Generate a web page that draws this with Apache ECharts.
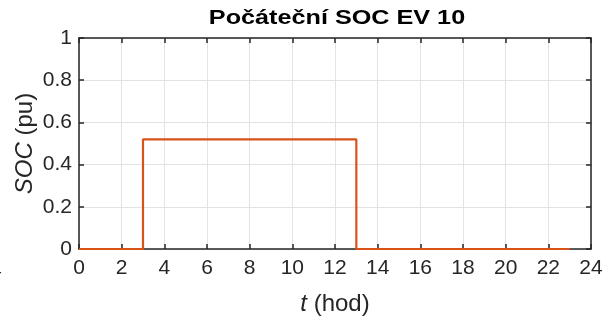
<!DOCTYPE html>
<html>
<head>
<meta charset="utf-8">
<script src="https://cdn.jsdelivr.net/npm/echarts@6/dist/echarts.min.js"></script>
<style>
html,body{margin:0;padding:0;background:#fff;}
#c{width:614px;height:325px;}
</style>
</head>
<body>
<div id="c"></div>
<script>
// Data
var times = [0, 3, 13, 23];          // hours where SOC value changes
var soc = [0, 0.52, 0, 0];           // SOC (pu) from each time onwards
var xTicks = [0, 2, 4, 6, 8, 10, 12, 14, 16, 18, 20, 22, 24];
var yTicks = [0, 0.2, 0.4, 0.6, 0.8, 1];
var titleText = 'Počáteční SOC EV 10';

var FONT = '"Liberation Sans", Arial, Helvetica, sans-serif';
var axisColor = '#262626';
var chart = echarts.init(document.getElementById('c'), null, {renderer: 'canvas'});

var points = times.map(function (t, i) { return [t, soc[i]]; });

function yFmt(v) {
  return (Math.round(v * 10) / 10).toString();
}

var option = {
  backgroundColor: '#fff',
  animation: false,
  grid: {left: 79, right: 23, top: 38, bottom: 76, containLabel: false},
  xAxis: [{
    type: 'value', min: 0, max: 24, interval: 2,
    name: '{i|t} (hod)', nameLocation: 'middle', nameGap: 43, nameMoveOverlap: false,
    nameTextStyle: {fontFamily: FONT, fontSize: 24, color: axisColor,
      rich: {i: {fontFamily: FONT, fontSize: 24, fontStyle: 'italic', color: axisColor}}},
    axisLine: {show: true, onZero: false, lineStyle: {color: axisColor, width: 1.5}},
    axisTick: {show: true, inside: true, length: 5, lineStyle: {color: axisColor, width: 1.5}},
    axisLabel: {fontFamily: FONT, fontSize: 21, color: axisColor, margin: 9},
    splitLine: {show: true, lineStyle: {color: '#e3e3e3', width: 1}}
  }, {
    type: 'value', min: 0, max: 24, interval: 2, position: 'top',
    axisLine: {show: true, onZero: false, lineStyle: {color: axisColor, width: 1.5}},
    axisTick: {show: true, inside: true, length: 5, lineStyle: {color: axisColor, width: 1.5}},
    axisLabel: {show: false}, splitLine: {show: false}
  }],
  yAxis: [{
    type: 'value', min: 0, max: 1, interval: 0.2,
    name: '{i|SOC} (pu)', nameLocation: 'middle', nameGap: 42, nameRotate: 90, nameMoveOverlap: false,
    nameTextStyle: {fontFamily: FONT, fontSize: 24, color: axisColor,
      rich: {i: {fontFamily: FONT, fontSize: 24, fontStyle: 'italic', color: axisColor}}},
    axisLine: {show: true, onZero: false, lineStyle: {color: axisColor, width: 1.5}},
    axisTick: {show: true, inside: true, length: 5, lineStyle: {color: axisColor, width: 1.5}},
    axisLabel: {fontFamily: FONT, fontSize: 21, color: axisColor, margin: 7, formatter: yFmt},
    splitLine: {show: true, lineStyle: {color: '#e3e3e3', width: 1}}
  }, {
    type: 'value', min: 0, max: 1, interval: 0.2, position: 'right',
    axisLine: {show: true, onZero: false, lineStyle: {color: axisColor, width: 1.5}},
    axisTick: {show: true, inside: true, length: 5, lineStyle: {color: axisColor, width: 1.5}},
    axisLabel: {show: false}, splitLine: {show: false}
  }],
  graphic: [{
    type: 'text', x: 337, y: 18, scaleX: 1.2, silent: true,
    style: {text: titleText, x: 0, y: 0, align: 'center', verticalAlign: 'middle',
      font: 'bold 21px ' + FONT, fill: '#000'}
  }, {
    type: 'text', left: -10, top: 260, silent: true,
    style: {text: '4', fontFamily: FONT, fontSize: 21, fill: axisColor}
  }],
  series: [{
    type: 'line', step: 'end', data: points, showSymbol: false, symbol: 'none',
    z: 5,
    lineStyle: {color: '#D95319', width: 2.2},
    itemStyle: {color: '#D95319'}
  }]
};
chart.setOption(option);
</script>
</body>
</html>
